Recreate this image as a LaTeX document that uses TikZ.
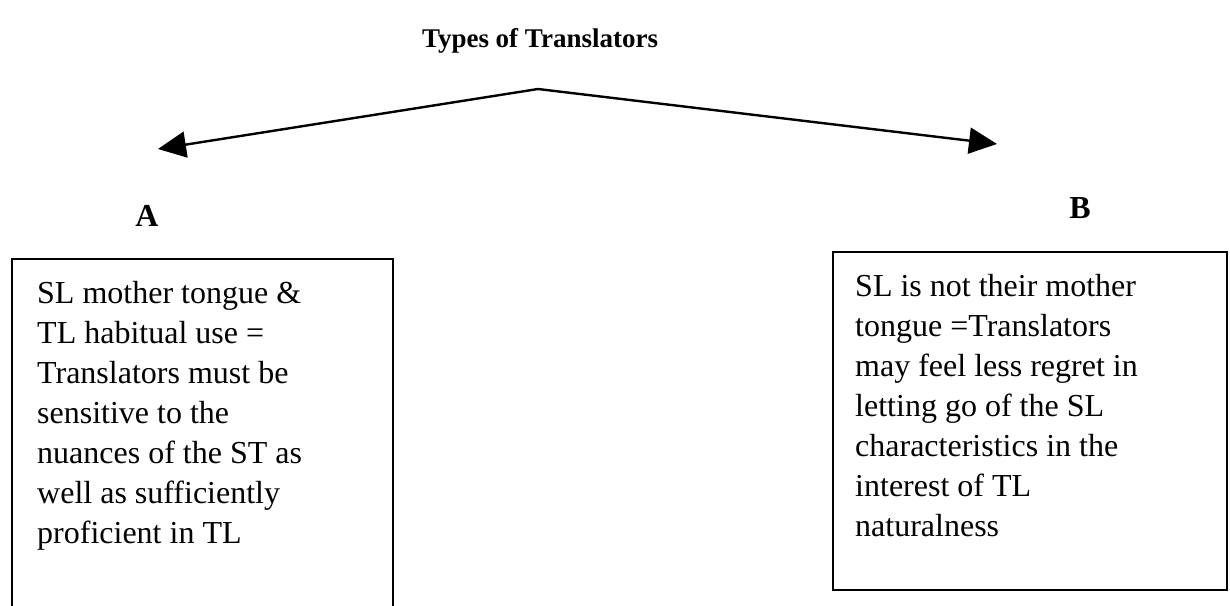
\documentclass[tikz,border=0pt]{standalone}
\usepackage{fontspec}
\setmainfont{Liberation Serif}
\usetikzlibrary{arrows.meta}
\tikzset{
  heading/.style={font=\fontsize{27}{33}\selectfont\bfseries, inner sep=0pt, anchor=base},
  letter/.style={font=\fontsize{32}{38}\selectfont\bfseries, inner sep=0pt, anchor=base},
  bodytext/.style={font=\fontsize{32}{40}\selectfont, inner sep=0pt, anchor=base west},
  frame/.style={draw=black, line width=2pt},
  branch/.style={draw=black, line width=2.4pt, -{Triangle[length=28pt, width=26pt]}}
}
\begin{document}
\begin{tikzpicture}[x=1pt, y=-1pt]
  \useasboundingbox (0,0) rectangle (1230,605);
  \clip (0,0) rectangle (1230,605);

  % title and the two branches
  \node[heading] (title) at (540,47) {Types of Translators};
  \coordinate (apex) at (538,89);
  \coordinate (tipA) at (158,149);
  \coordinate (tipB) at (997,144);
  \draw[branch] (apex) -- (tipA);
  \draw[branch] (apex) -- (tipB);

  % branch labels
  \node[letter] (labA) at (147,226) {A};
  \node[letter] (labB) at (1080,218) {B};

  % left box (runs past the lower edge)
  \draw[frame] (12,259) rectangle (393,625);
  \node[bodytext] (textA) at (37,303) {\begin{tabular}[t]{@{}l@{}}
    SL mother tongue \&\\
    TL habitual use =\\
    Translators must be\\
    sensitive to the\\
    nuances of the ST as\\
    well as sufficiently\\
    proficient in TL
  \end{tabular}};

  % right box
  \draw[frame] (833,252) rectangle (1227,590);
  \node[bodytext] (textB) at (855,296) {\begin{tabular}[t]{@{}l@{}}
    SL is not their mother\\
    tongue =Translators\\
    may feel less regret in\\
    letting go of the SL\\
    characteristics in the\\
    interest of TL\\
    naturalness
  \end{tabular}};
\end{tikzpicture}
\end{document}
